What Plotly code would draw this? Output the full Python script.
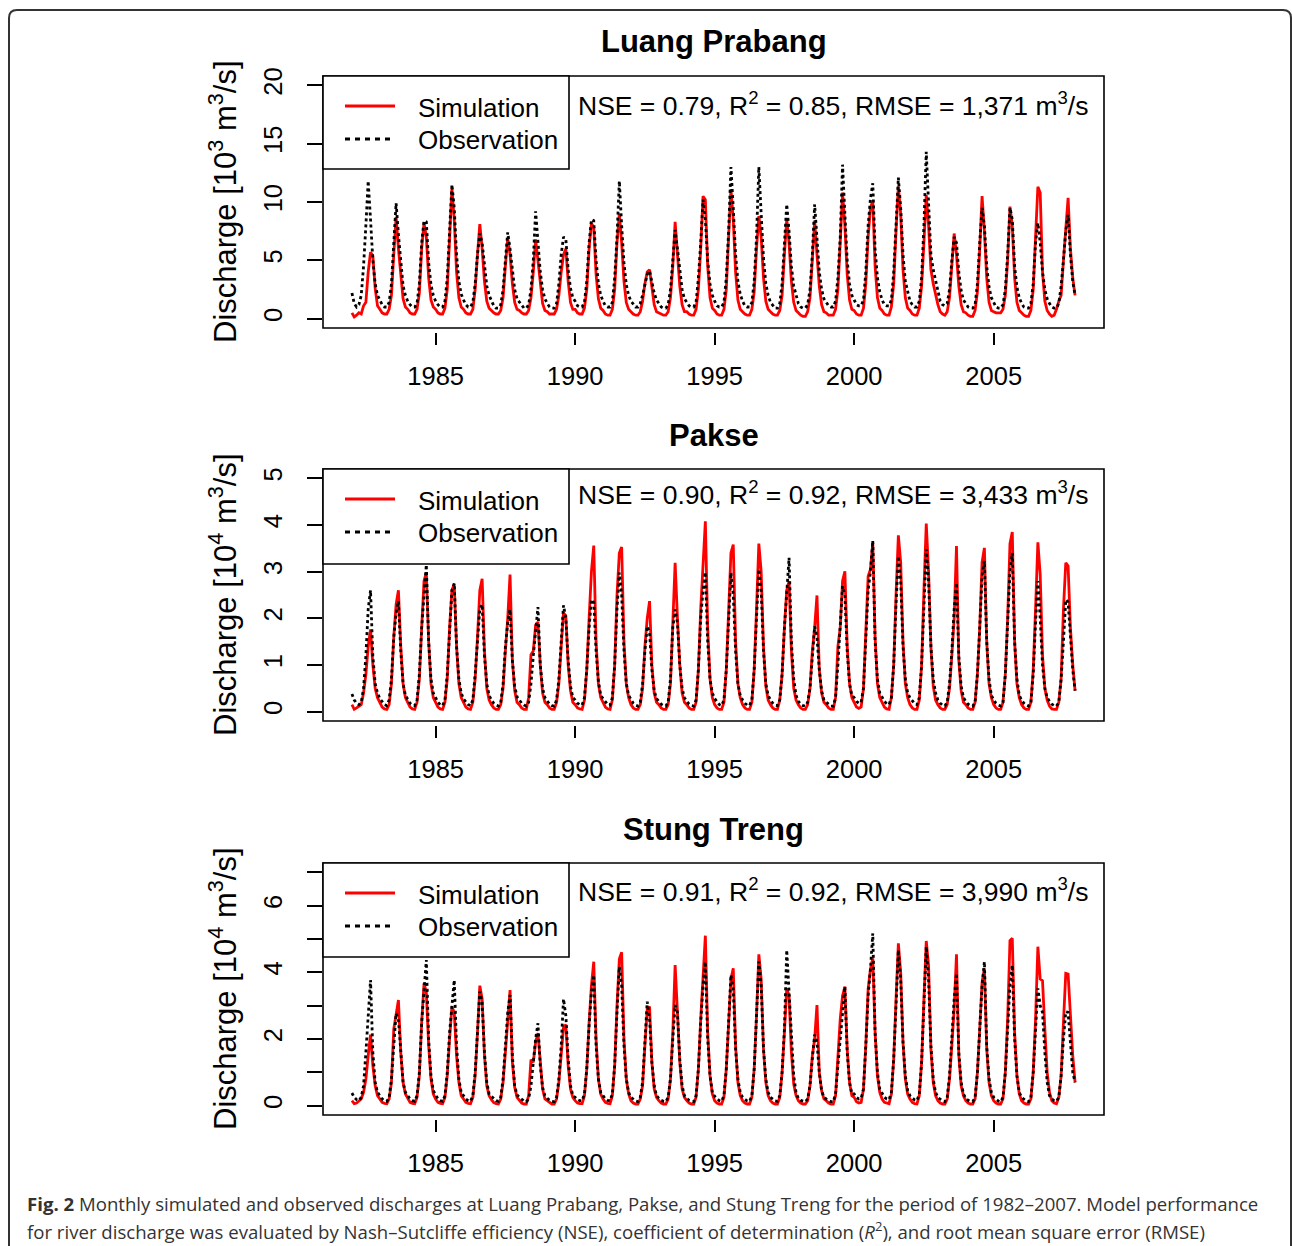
import plotly.graph_objects as go

W, H = 1292, 1246

# ---------------- data (monthly, 1982-2007) ----------------
years = list(range(1982, 2008))
month_index = list(range(12))
t = [y + m / 12 for y in years for m in month_index]

# Luang Prabang [10^3 m3/s]
lp_sim_rows = [
    [0.5, 0.15, 0.3, 0.5, 0.4, 1.1, 1.4, 4.0, 5.7, 5.4, 2.6, 1.1],
    [0.8, 0.5, 0.4, 0.4, 0.8, 2.0, 5.5, 8.7, 6.0, 3.5, 1.7, 1.0],
    [0.8, 0.5, 0.4, 0.4, 0.8, 2.2, 6.0, 8.2, 7.0, 3.5, 1.6, 1.0],
    [0.8, 0.5, 0.4, 0.4, 0.9, 2.5, 6.5, 11.2, 8.5, 4.0, 1.8, 1.0],
    [0.8, 0.5, 0.4, 0.4, 0.8, 2.5, 5.5, 8.1, 6.0, 3.2, 1.5, 0.9],
    [0.7, 0.5, 0.4, 0.4, 0.7, 1.8, 4.5, 6.9, 5.5, 3.0, 1.4, 0.8],
    [0.7, 0.5, 0.4, 0.4, 0.7, 1.8, 4.0, 6.8, 5.0, 2.8, 1.3, 0.7],
    [0.6, 0.4, 0.4, 0.4, 0.8, 2.0, 4.0, 5.5, 6.0, 3.2, 1.4, 0.8],
    [0.8, 0.5, 0.4, 0.4, 0.9, 2.5, 6.0, 8.2, 7.8, 3.8, 1.7, 0.9],
    [0.7, 0.4, 0.3, 0.3, 0.8, 2.5, 6.5, 9.0, 6.5, 3.2, 1.4, 0.8],
    [0.6, 0.4, 0.3, 0.3, 0.6, 1.5, 3.0, 4.0, 4.2, 2.8, 1.2, 0.6],
    [0.5, 0.4, 0.3, 0.3, 0.6, 1.8, 4.5, 8.3, 5.5, 2.8, 1.2, 0.6],
    [0.6, 0.4, 0.3, 0.3, 0.8, 2.5, 6.0, 10.5, 10.2, 4.5, 1.8, 0.9],
    [0.7, 0.4, 0.3, 0.3, 0.8, 2.5, 7.0, 11.1, 8.5, 4.0, 1.6, 0.8],
    [0.6, 0.4, 0.3, 0.3, 0.8, 2.3, 6.0, 8.8, 7.0, 3.5, 1.5, 0.8],
    [0.6, 0.4, 0.3, 0.3, 0.7, 2.0, 5.5, 8.5, 6.5, 3.2, 1.4, 0.7],
    [0.5, 0.3, 0.2, 0.2, 0.6, 1.8, 5.0, 8.4, 5.5, 2.8, 1.2, 0.6],
    [0.5, 0.3, 0.3, 0.3, 0.8, 2.5, 6.5, 10.8, 8.0, 3.8, 1.6, 0.8],
    [0.7, 0.4, 0.3, 0.3, 0.9, 3.0, 7.0, 9.5, 10.1, 4.5, 1.8, 0.9],
    [0.7, 0.4, 0.3, 0.3, 1.0, 3.0, 7.5, 11.35, 9.0, 4.2, 1.8, 0.9],
    [0.7, 0.4, 0.3, 0.3, 0.9, 2.8, 6.5, 10.6, 8.0, 4.2, 3.0, 2.0],
    [1.2, 0.6, 0.4, 0.3, 0.6, 1.8, 4.5, 7.3, 5.5, 2.8, 1.2, 0.6],
    [0.5, 0.3, 0.2, 0.2, 0.7, 2.3, 6.0, 10.5, 7.5, 3.5, 1.4, 0.7],
    [0.6, 0.5, 0.5, 0.5, 0.8, 2.0, 5.0, 9.6, 8.0, 3.5, 1.4, 0.7],
    [0.5, 0.3, 0.2, 0.2, 0.7, 2.5, 7.0, 11.3, 10.8, 4.0, 1.5, 0.7],
    [0.4, 0.2, 0.3, 0.8, 1.5, 2.0, 5.0, 8.0, 10.35, 6.0, 3.5, 2.0],
]
lp_obs_rows = [
    [2.2, 1.3, 1.0, 1.2, 2.0, 4.5, 8.0, 11.8, 8.5, 5.0, 3.0, 2.0],
    [1.6, 1.2, 1.0, 1.0, 1.4, 3.0, 6.5, 9.9, 7.2, 4.8, 2.8, 2.0],
    [1.5, 1.2, 1.0, 1.0, 1.3, 3.0, 6.5, 8.4, 8.3, 4.8, 2.9, 2.0],
    [1.5, 1.2, 1.0, 1.0, 1.5, 3.5, 7.0, 11.5, 9.5, 5.5, 3.2, 2.1],
    [1.6, 1.2, 1.0, 1.0, 1.4, 3.0, 5.5, 7.3, 6.5, 4.5, 2.8, 2.0],
    [1.5, 1.1, 0.9, 0.9, 1.2, 2.5, 5.0, 7.4, 6.0, 4.0, 2.5, 1.7],
    [1.4, 1.1, 0.9, 0.9, 1.2, 2.5, 5.0, 9.2, 6.2, 4.0, 2.5, 1.7],
    [1.3, 1.0, 0.9, 0.9, 1.3, 3.0, 5.5, 7.0, 6.8, 4.2, 2.6, 1.8],
    [1.5, 1.1, 1.0, 1.0, 1.4, 3.2, 6.5, 8.5, 8.4, 5.0, 3.0, 2.0],
    [1.5, 1.1, 1.0, 1.0, 1.4, 3.5, 7.0, 11.8, 8.0, 4.8, 2.9, 2.0],
    [1.5, 1.2, 1.0, 1.0, 1.3, 2.0, 3.0, 3.8, 4.1, 3.2, 2.2, 1.6],
    [1.3, 1.0, 0.9, 0.9, 1.2, 2.5, 5.0, 7.6, 6.0, 4.0, 2.5, 1.7],
    [1.4, 1.1, 1.0, 1.0, 1.4, 3.5, 6.5, 10.2, 8.5, 5.0, 3.0, 2.0],
    [1.5, 1.1, 1.0, 1.0, 1.4, 3.5, 7.5, 13.0, 9.5, 5.5, 3.2, 2.1],
    [1.5, 1.1, 1.0, 1.0, 1.4, 3.2, 7.0, 13.0, 9.0, 5.2, 3.0, 2.0],
    [1.4, 1.1, 0.9, 0.9, 1.3, 3.0, 6.0, 9.8, 7.5, 4.5, 2.8, 1.9],
    [1.3, 1.0, 0.9, 0.9, 1.2, 2.5, 5.5, 9.8, 6.5, 4.0, 2.5, 1.7],
    [1.4, 1.1, 1.0, 1.0, 1.5, 3.5, 7.0, 13.2, 9.0, 5.0, 3.0, 2.0],
    [1.6, 1.2, 1.1, 1.1, 1.6, 4.0, 8.0, 10.3, 11.6, 6.0, 3.5, 2.3],
    [1.6, 1.2, 1.1, 1.1, 1.6, 4.0, 8.0, 12.1, 9.5, 5.5, 3.2, 2.2],
    [1.5, 1.2, 1.0, 1.0, 1.5, 3.5, 8.0, 14.3, 9.5, 5.5, 4.2, 3.2],
    [2.2, 1.5, 1.2, 1.1, 1.3, 2.5, 5.0, 7.0, 6.5, 4.0, 2.4, 1.6],
    [1.3, 1.0, 0.9, 0.9, 1.2, 3.0, 6.5, 9.5, 8.0, 4.5, 2.7, 1.8],
    [1.4, 1.0, 0.9, 0.9, 1.2, 2.5, 5.5, 9.5, 8.5, 4.5, 2.7, 1.8],
    [1.3, 1.0, 0.9, 0.9, 1.3, 3.0, 6.5, 8.2, 6.5, 4.0, 2.5, 1.7],
    [1.3, 1.0, 0.9, 0.9, 1.3, 2.8, 5.0, 7.5, 8.9, 5.5, 3.2, 2.0],
]

# Pakse [10^4 m3/s]
pk_sim_rows = [
    [0.15, 0.05, 0.08, 0.12, 0.15, 0.4, 0.8, 1.4, 1.76, 1.0, 0.5, 0.3],
    [0.2, 0.1, 0.06, 0.05, 0.15, 0.6, 1.6, 2.3, 2.6, 1.4, 0.6, 0.3],
    [0.2, 0.1, 0.06, 0.05, 0.2, 0.7, 1.8, 2.8, 2.98, 1.5, 0.6, 0.3],
    [0.2, 0.1, 0.06, 0.05, 0.2, 0.7, 1.8, 2.6, 2.73, 1.4, 0.6, 0.3],
    [0.2, 0.1, 0.06, 0.05, 0.2, 0.7, 1.6, 2.6, 2.85, 1.3, 0.5, 0.25],
    [0.15, 0.08, 0.05, 0.05, 0.15, 0.5, 1.3, 2.0, 2.94, 1.1, 0.45, 0.2],
    [0.15, 0.08, 0.05, 0.05, 0.3, 1.22, 1.3, 1.85, 1.92, 1.0, 0.4, 0.2],
    [0.15, 0.08, 0.05, 0.05, 0.2, 0.6, 1.4, 2.12, 2.05, 1.0, 0.45, 0.2],
    [0.15, 0.08, 0.06, 0.05, 0.25, 0.9, 2.0, 3.0, 3.56, 1.5, 0.6, 0.3],
    [0.2, 0.1, 0.06, 0.05, 0.25, 1.0, 2.5, 3.4, 3.53, 1.5, 0.6, 0.3],
    [0.15, 0.08, 0.05, 0.05, 0.15, 0.5, 1.4, 2.0, 2.37, 1.0, 0.4, 0.2],
    [0.15, 0.08, 0.05, 0.05, 0.15, 0.6, 1.9, 3.19, 2.0, 1.0, 0.4, 0.2],
    [0.15, 0.08, 0.05, 0.05, 0.2, 0.9, 2.2, 3.2, 4.08, 1.8, 0.7, 0.3],
    [0.15, 0.08, 0.05, 0.05, 0.2, 0.9, 2.2, 3.4, 3.58, 1.5, 0.6, 0.3],
    [0.15, 0.08, 0.05, 0.05, 0.2, 0.9, 2.2, 3.6, 3.0, 1.4, 0.55, 0.25],
    [0.15, 0.08, 0.05, 0.05, 0.25, 0.8, 1.8, 2.6, 2.8, 1.3, 0.5, 0.25],
    [0.15, 0.08, 0.05, 0.05, 0.15, 0.5, 1.3, 1.8, 2.49, 0.9, 0.4, 0.2],
    [0.15, 0.08, 0.05, 0.05, 0.3, 1.4, 1.8, 2.8, 3.01, 1.4, 0.6, 0.3],
    [0.2, 0.1, 0.07, 0.1, 0.5, 1.6, 2.9, 3.05, 3.62, 1.6, 0.6, 0.3],
    [0.2, 0.1, 0.06, 0.05, 0.3, 1.0, 2.5, 3.78, 3.2, 1.5, 0.6, 0.3],
    [0.15, 0.08, 0.05, 0.05, 0.25, 1.0, 2.6, 4.03, 3.0, 1.4, 0.55, 0.25],
    [0.15, 0.08, 0.05, 0.05, 0.15, 0.5, 1.2, 2.0, 3.55, 1.1, 0.45, 0.2],
    [0.15, 0.08, 0.05, 0.05, 0.2, 0.8, 1.8, 3.2, 3.51, 1.5, 0.6, 0.3],
    [0.15, 0.08, 0.05, 0.05, 0.2, 0.8, 2.0, 3.6, 3.85, 1.5, 0.6, 0.3],
    [0.15, 0.08, 0.05, 0.05, 0.2, 0.9, 2.2, 3.63, 2.94, 1.2, 0.5, 0.25],
    [0.12, 0.06, 0.05, 0.05, 0.2, 0.7, 2.2, 3.19, 3.12, 1.8, 1.0, 0.45],
]
pk_obs_rows = [
    [0.38, 0.25, 0.18, 0.15, 0.2, 0.5, 1.2, 2.2, 2.6, 1.2, 0.6, 0.4],
    [0.28, 0.2, 0.15, 0.13, 0.25, 0.7, 1.6, 2.1, 2.37, 1.3, 0.6, 0.35],
    [0.25, 0.18, 0.14, 0.13, 0.25, 0.8, 1.8, 2.6, 3.15, 1.5, 0.7, 0.4],
    [0.28, 0.2, 0.15, 0.13, 0.25, 0.8, 1.7, 2.6, 2.75, 1.4, 0.7, 0.4],
    [0.27, 0.2, 0.15, 0.13, 0.25, 0.8, 1.6, 2.2, 2.3, 1.2, 0.6, 0.35],
    [0.25, 0.18, 0.14, 0.12, 0.2, 0.6, 1.4, 1.9, 2.19, 1.1, 0.55, 0.32],
    [0.25, 0.18, 0.14, 0.12, 0.2, 0.6, 1.2, 1.8, 2.24, 1.0, 0.5, 0.3],
    [0.22, 0.16, 0.13, 0.12, 0.25, 0.7, 1.5, 2.28, 2.0, 1.1, 0.55, 0.3],
    [0.25, 0.18, 0.15, 0.14, 0.3, 0.9, 1.8, 2.4, 2.35, 1.3, 0.65, 0.35],
    [0.28, 0.2, 0.15, 0.14, 0.3, 1.0, 2.2, 2.98, 2.5, 1.3, 0.6, 0.35],
    [0.25, 0.18, 0.14, 0.12, 0.2, 0.6, 1.3, 1.83, 1.7, 0.9, 0.45, 0.28],
    [0.22, 0.16, 0.13, 0.12, 0.2, 0.7, 1.8, 2.19, 1.9, 1.0, 0.5, 0.3],
    [0.22, 0.16, 0.13, 0.12, 0.25, 0.9, 2.0, 2.6, 2.99, 1.5, 0.7, 0.4],
    [0.28, 0.2, 0.15, 0.13, 0.25, 0.9, 2.0, 2.98, 2.5, 1.3, 0.6, 0.35],
    [0.25, 0.18, 0.14, 0.13, 0.25, 0.9, 2.0, 3.05, 2.6, 1.3, 0.6, 0.35],
    [0.25, 0.18, 0.14, 0.13, 0.25, 0.8, 1.8, 2.6, 3.3, 1.5, 0.7, 0.35],
    [0.22, 0.16, 0.13, 0.12, 0.2, 0.5, 1.2, 1.83, 1.6, 0.9, 0.45, 0.25],
    [0.2, 0.15, 0.12, 0.12, 0.3, 1.0, 2.0, 2.69, 2.5, 1.3, 0.6, 0.35],
    [0.3, 0.22, 0.18, 0.2, 0.5, 1.5, 2.6, 3.0, 3.66, 1.5, 0.7, 0.4],
    [0.3, 0.22, 0.17, 0.15, 0.3, 1.0, 2.3, 3.33, 2.8, 1.4, 0.7, 0.4],
    [0.3, 0.22, 0.17, 0.15, 0.3, 1.0, 2.3, 3.48, 2.8, 1.4, 0.7, 0.4],
    [0.25, 0.18, 0.14, 0.12, 0.2, 0.6, 1.3, 2.2, 2.76, 1.2, 0.55, 0.3],
    [0.22, 0.16, 0.13, 0.12, 0.2, 0.8, 1.8, 2.9, 3.23, 1.5, 0.7, 0.35],
    [0.25, 0.18, 0.14, 0.12, 0.2, 0.8, 1.9, 3.0, 3.4, 1.5, 0.7, 0.35],
    [0.25, 0.18, 0.14, 0.12, 0.2, 0.8, 1.9, 2.8, 2.0, 1.0, 0.5, 0.3],
    [0.22, 0.16, 0.13, 0.12, 0.2, 0.7, 1.5, 2.4, 2.35, 1.6, 0.9, 0.45],
]

# Stung Treng [10^4 m3/s]
st_sim_rows = [
    [0.15, 0.06, 0.08, 0.15, 0.2, 0.4, 0.8, 1.5, 2.13, 1.2, 0.6, 0.3],
    [0.2, 0.1, 0.07, 0.06, 0.2, 0.7, 2.3, 2.8, 3.17, 1.6, 0.7, 0.35],
    [0.2, 0.1, 0.07, 0.06, 0.25, 0.9, 2.5, 3.67, 3.4, 1.8, 0.8, 0.35],
    [0.2, 0.1, 0.07, 0.06, 0.25, 0.9, 2.0, 2.97, 2.8, 1.5, 0.7, 0.3],
    [0.2, 0.1, 0.07, 0.06, 0.25, 0.9, 2.2, 3.6, 3.2, 1.5, 0.6, 0.3],
    [0.18, 0.09, 0.06, 0.05, 0.2, 0.7, 1.6, 2.6, 3.47, 1.3, 0.55, 0.25],
    [0.15, 0.08, 0.05, 0.05, 0.3, 1.38, 1.3, 1.9, 2.18, 1.2, 0.5, 0.2],
    [0.15, 0.08, 0.05, 0.05, 0.2, 0.7, 1.6, 2.35, 2.43, 1.2, 0.5, 0.25],
    [0.15, 0.08, 0.06, 0.06, 0.3, 1.1, 2.5, 3.6, 4.32, 2.0, 0.8, 0.35],
    [0.2, 0.1, 0.07, 0.06, 0.3, 1.2, 3.0, 4.4, 4.6, 2.0, 0.8, 0.35],
    [0.15, 0.08, 0.05, 0.05, 0.2, 0.6, 1.8, 2.9, 2.97, 1.3, 0.5, 0.25],
    [0.15, 0.08, 0.05, 0.05, 0.2, 0.8, 2.2, 4.22, 2.8, 1.3, 0.5, 0.25],
    [0.15, 0.08, 0.05, 0.05, 0.25, 1.1, 2.6, 3.8, 5.1, 2.2, 0.9, 0.35],
    [0.15, 0.08, 0.05, 0.05, 0.25, 1.1, 2.6, 3.8, 4.12, 1.8, 0.7, 0.3],
    [0.15, 0.08, 0.05, 0.05, 0.25, 1.1, 2.7, 4.54, 3.8, 1.7, 0.7, 0.3],
    [0.15, 0.08, 0.05, 0.05, 0.25, 1.0, 2.2, 3.52, 3.3, 1.6, 0.65, 0.3],
    [0.15, 0.08, 0.05, 0.05, 0.15, 0.6, 1.5, 2.0, 3.02, 1.0, 0.45, 0.2],
    [0.15, 0.08, 0.05, 0.05, 0.3, 1.4, 2.6, 3.3, 3.57, 1.7, 0.7, 0.3],
    [0.25, 0.12, 0.08, 0.1, 0.5, 1.8, 3.5, 4.1, 4.42, 2.2, 0.9, 0.4],
    [0.2, 0.1, 0.07, 0.06, 0.35, 1.4, 3.2, 4.87, 4.0, 1.9, 0.8, 0.35],
    [0.2, 0.1, 0.06, 0.05, 0.3, 1.3, 3.2, 4.94, 4.2, 1.7, 0.7, 0.3],
    [0.15, 0.08, 0.05, 0.05, 0.2, 0.8, 1.8, 2.9, 4.54, 1.5, 0.6, 0.3],
    [0.15, 0.08, 0.05, 0.05, 0.2, 1.0, 2.3, 3.7, 4.12, 1.7, 0.7, 0.3],
    [0.15, 0.08, 0.05, 0.05, 0.2, 1.0, 2.6, 4.95, 5.02, 2.2, 0.9, 0.35],
    [0.15, 0.08, 0.05, 0.05, 0.2, 1.0, 2.6, 4.77, 3.8, 3.75, 2.3, 1.0],
    [0.4, 0.15, 0.08, 0.06, 0.25, 0.9, 2.5, 3.97, 3.95, 2.5, 1.5, 0.7],
]
st_obs_rows = [
    [0.38, 0.25, 0.18, 0.15, 0.25, 0.6, 1.6, 2.8, 3.77, 1.6, 0.7, 0.4],
    [0.28, 0.2, 0.15, 0.13, 0.25, 0.8, 1.8, 2.77, 2.6, 1.5, 0.7, 0.4],
    [0.3, 0.2, 0.15, 0.13, 0.3, 1.0, 2.5, 3.5, 4.37, 2.0, 0.9, 0.45],
    [0.3, 0.2, 0.15, 0.13, 0.3, 1.0, 2.2, 3.0, 3.77, 1.8, 0.8, 0.4],
    [0.3, 0.2, 0.15, 0.13, 0.3, 1.0, 2.2, 3.42, 3.1, 1.6, 0.7, 0.35],
    [0.28, 0.2, 0.15, 0.13, 0.25, 0.8, 1.8, 2.8, 3.32, 1.5, 0.6, 0.32],
    [0.25, 0.18, 0.14, 0.12, 0.2, 0.6, 1.3, 2.0, 2.47, 1.2, 0.55, 0.3],
    [0.22, 0.16, 0.13, 0.12, 0.25, 0.8, 1.8, 3.2, 2.7, 1.4, 0.6, 0.3],
    [0.25, 0.18, 0.15, 0.15, 0.35, 1.1, 2.4, 3.4, 3.92, 1.8, 0.8, 0.4],
    [0.3, 0.2, 0.16, 0.15, 0.35, 1.2, 2.8, 4.17, 3.6, 1.8, 0.8, 0.4],
    [0.25, 0.18, 0.14, 0.12, 0.25, 0.7, 1.8, 3.12, 2.6, 1.3, 0.6, 0.3],
    [0.22, 0.16, 0.13, 0.12, 0.25, 0.8, 2.0, 3.02, 2.8, 1.4, 0.6, 0.3],
    [0.22, 0.16, 0.13, 0.12, 0.3, 1.1, 2.5, 3.6, 4.32, 2.0, 0.9, 0.4],
    [0.28, 0.2, 0.15, 0.13, 0.3, 1.1, 2.6, 3.92, 3.5, 1.7, 0.8, 0.4],
    [0.25, 0.18, 0.14, 0.13, 0.3, 1.1, 2.6, 4.32, 3.6, 1.7, 0.8, 0.4],
    [0.25, 0.18, 0.14, 0.13, 0.3, 1.0, 2.3, 4.67, 3.4, 2.0, 0.9, 0.4],
    [0.22, 0.16, 0.13, 0.12, 0.2, 0.6, 1.4, 2.13, 1.9, 1.0, 0.45, 0.25],
    [0.2, 0.15, 0.12, 0.12, 0.35, 1.2, 2.0, 3.0, 3.57, 1.6, 0.7, 0.35],
    [0.35, 0.25, 0.2, 0.22, 0.5, 1.8, 3.3, 4.1, 5.17, 2.2, 1.0, 0.5],
    [0.35, 0.25, 0.2, 0.18, 0.4, 1.4, 3.0, 4.67, 3.8, 1.9, 0.9, 0.45],
    [0.3, 0.22, 0.17, 0.15, 0.35, 1.3, 3.0, 4.77, 3.8, 1.8, 0.8, 0.4],
    [0.25, 0.18, 0.14, 0.12, 0.25, 0.9, 2.1, 3.2, 3.97, 1.6, 0.7, 0.35],
    [0.22, 0.16, 0.13, 0.12, 0.25, 1.0, 2.3, 3.6, 4.32, 1.8, 0.8, 0.4],
    [0.25, 0.18, 0.14, 0.12, 0.25, 1.0, 2.5, 3.6, 4.22, 2.0, 0.9, 0.4],
    [0.25, 0.18, 0.14, 0.12, 0.25, 1.0, 2.4, 3.52, 3.0, 2.8, 1.6, 0.7],
    [0.3, 0.2, 0.15, 0.13, 0.25, 0.9, 2.0, 2.82, 2.8, 1.8, 1.0, 0.7],
]

x_ticks = [1985, 1990, 1995, 2000, 2005]
station_names = ["Luang Prabang", "Pakse", "Stung Treng"]
stats_texts = [
    "NSE = 0.79, R<sup>2</sup> = 0.85, RMSE = 1,371 m<sup>3</sup>/s",
    "NSE = 0.90, R<sup>2</sup> = 0.92, RMSE = 3,433 m<sup>3</sup>/s",
    "NSE = 0.91, R<sup>2</sup> = 0.92, RMSE = 3,990 m<sup>3</sup>/s",
]
y_exponents = ["3", "4", "4"]
y_tickvals = [[0, 5, 10, 15, 20], [0, 1, 2, 3, 4, 5], [0, 2, 4, 6]]
y_minor_dtick = [None, None, 1]
y_max = [20, 5, 7]


def flat(rows):
    return [v for r in rows for v in r]


series = [
    (flat(lp_sim_rows), flat(lp_obs_rows)),
    (flat(pk_sim_rows), flat(pk_obs_rows)),
    (flat(st_sim_rows), flat(st_obs_rows)),
]

# ---------------- layout geometry (pixels) ----------------
BOX_L, BOX_R = 323, 1104
box_tops = [76, 469, 863]
box_bots = [328, 721, 1115]
title_ys = [42, 435, 829]
stats_ys = [104, 493, 890]
leg_bots = [169, 564, 957]
FONT = "Liberation Sans, Arial, sans-serif"

fig = go.Figure()
layout = dict(
    width=W, height=H,
    margin=dict(l=0, r=0, t=0, b=0, autoexpand=False),
    paper_bgcolor="white", plot_bgcolor="white",
    showlegend=False,
    font=dict(family=FONT, color="black"),
)
shapes, annos = [], []

x_lo, x_hi = t[0], t[-1]
pad_x = (x_hi - x_lo) * 0.04

for i in range(3):
    n = "" if i == 0 else str(i + 1)
    sim, obs = series[i]
    fig.add_trace(go.Scatter(x=t, y=sim, mode="lines", name="Simulation",
                             line=dict(color="#FF0000", width=2.8),
                             xaxis="x" + n, yaxis="y" + n))
    fig.add_trace(go.Scatter(x=t, y=obs, mode="lines", name="Observation",
                             line=dict(color="black", width=2.8, dash="3px,3px"),
                             xaxis="x" + n, yaxis="y" + n))
    top, bot = box_tops[i], box_bots[i]
    ph = bot - top
    pw = BOX_R - BOX_L
    ypad = y_max[i] * 0.04
    layout["xaxis" + n] = dict(
        domain=[BOX_L / W, BOX_R / W], range=[x_lo - pad_x, x_hi + pad_x],
        anchor="free", position=(H - bot - 4) / H,
        tickvals=x_ticks, ticks="outside", ticklen=12, tickwidth=1.5,
        tickcolor="black", showgrid=False, zeroline=False, showline=False,
        tickfont=dict(size=25.5, family=FONT), ticklabelstandoff=9,
    )
    yax = dict(
        domain=[(H - bot) / H, (H - top) / H], range=[-ypad, y_max[i] + ypad],
        anchor="x" + n, tickvals=y_tickvals[i],
        ticks="outside", ticklen=15, tickwidth=1.5, tickcolor="black",
        tickangle=-90, showgrid=False, zeroline=False, showline=False,
        tickfont=dict(size=25.5, family=FONT), ticklabelstandoff=15,
    )
    if y_minor_dtick[i]:
        yax["minor"] = dict(tick0=0, dtick=y_minor_dtick[i], ticks="outside",
                            ticklen=15, tickwidth=1.5, tickcolor="black", showgrid=False)
    layout["yaxis" + n] = yax
    xd, yd = "x" + n + " domain", "y" + n + " domain"
    # plot box
    shapes.append(dict(type="rect", xref=xd, yref=yd, x0=0, x1=1, y0=0, y1=1,
                       line=dict(color="black", width=1.6)))
    # legend box
    shapes.append(dict(type="rect", xref=xd, yref=yd, x0=0, x1=(569 - BOX_L) / pw,
                       y0=1 - (leg_bots[i] - top) / ph, y1=1,
                       line=dict(color="black", width=1.6), fillcolor="white"))
    ly1 = 1 - 30 / ph
    ly2 = 1 - 63 / ph
    shapes.append(dict(type="line", xref=xd, yref=yd, x0=22 / pw, x1=72 / pw,
                       y0=ly1, y1=ly1, line=dict(color="#FF0000", width=2.8)))
    shapes.append(dict(type="line", xref=xd, yref=yd, x0=22 / pw, x1=72 / pw,
                       y0=ly2, y1=ly2, line=dict(color="black", width=2.8, dash="5px,5px")))
    annos.append(dict(xref=xd, yref=yd, x=93 / pw, y=ly1 - 2 / ph, text="Simulation",
                      showarrow=False, xanchor="left", yanchor="middle",
                      font=dict(size=26, family=FONT)))
    annos.append(dict(xref=xd, yref=yd, x=93 / pw, y=ly2 - 1 / ph, text="Observation",
                      showarrow=False, xanchor="left", yanchor="middle",
                      font=dict(size=26, family=FONT)))
    # statistics
    annos.append(dict(xref=xd, yref=yd, x=(576 - BOX_L) / pw,
                      y=1 - (stats_ys[i] - top) / ph, text=stats_texts[i],
                      showarrow=False, xanchor="left", yanchor="middle",
                      font=dict(size=26.5, family=FONT)))
    # title
    annos.append(dict(xref="paper", yref="paper", x=(BOX_L + BOX_R) / 2 / W,
                      y=1 - title_ys[i] / H, text="<b>" + station_names[i] + "</b>",
                      showarrow=False, xanchor="center", yanchor="middle",
                      font=dict(size=31, family=FONT)))
    # y-axis title
    annos.append(dict(xref="paper", yref="paper", x=223 / W,
                      y=1 - (top + bot) / 2 / H,
                      text="Discharge [10<sup>" + y_exponents[i] + "</sup> m<sup>3</sup>/s]",
                      textangle=-90, showarrow=False, xanchor="center", yanchor="middle",
                      font=dict(size=31, family=FONT)))

# caption
CAP = "Open Sans, Noto Sans, sans-serif"
annos.append(dict(xref="paper", yref="paper", x=25 / W, y=1 - 1203 / H,
                  text="<b>Fig. 2</b> Monthly simulated and observed discharges at Luang Prabang, "
                       "Pakse, and Stung Treng for the period of 1982–2007. Model performance",
                  showarrow=False, xanchor="left", yanchor="middle",
                  font=dict(size=18.6, family=CAP, color="#333333")))
annos.append(dict(xref="paper", yref="paper", x=25 / W, y=1 - 1230 / H,
                  text="for river discharge was evaluated by Nash–Sutcliffe efficiency (NSE), "
                       "coefficient of determination (<i>R</i><sup>2</sup>), and root mean square error (RMSE)",
                  showarrow=False, xanchor="left", yanchor="middle",
                  font=dict(size=18.6, family=CAP, color="#333333")))

# outer rounded frame
def px(x, y):
    return f"{x / W:.5f},{1 - y / H:.5f}"

frame = (f"M {px(9, 1246)} L {px(9, 18)} Q {px(9, 10)} {px(17, 10)} "
         f"L {px(1283, 10)} Q {px(1291, 10)} {px(1291, 18)} L {px(1291, 1246)}")
shapes.append(dict(type="path", xref="paper", yref="paper", path=frame,
                   line=dict(color="#333333", width=2)))

layout["shapes"] = shapes
layout["annotations"] = annos
fig.update_layout(**layout)
fig.write_html("out.html")
